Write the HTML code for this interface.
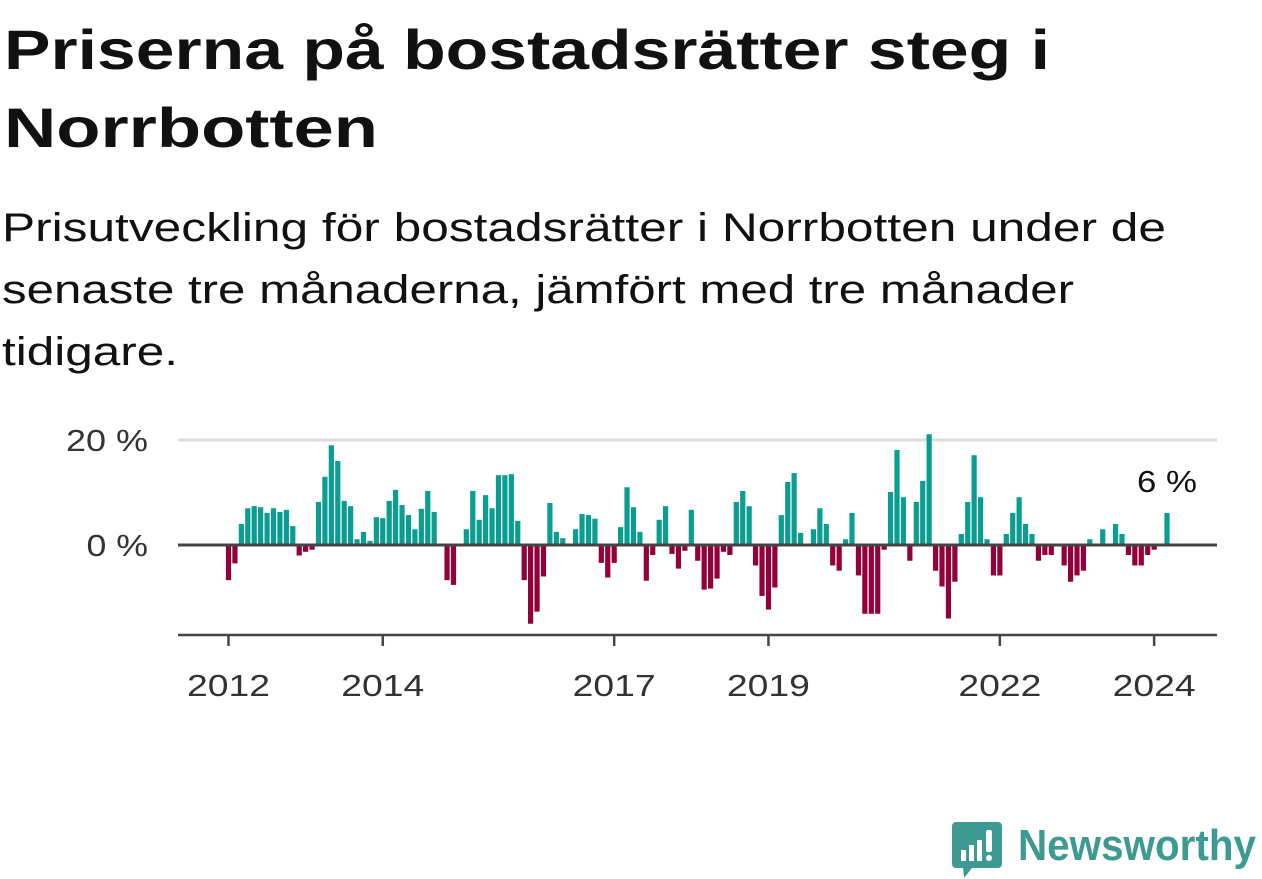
<!DOCTYPE html>
<html><head><meta charset="utf-8"><style>
html,body{margin:0;padding:0;background:#fff;width:1262px;height:879px;overflow:hidden}
svg{display:block;font-family:"Liberation Sans","DejaVu Sans",sans-serif}
</style></head><body>
<svg id="chart" width="1262" height="879" viewBox="0 0 1262 879">
<text x="4" y="69" font-size="56" font-weight="bold" fill="#111" textLength="1046" lengthAdjust="spacingAndGlyphs">Priserna på bostadsrätter steg i</text>
<text x="4" y="147" font-size="56" font-weight="bold" fill="#111" textLength="374" lengthAdjust="spacingAndGlyphs">Norrbotten</text>
<text x="2" y="241" font-size="40" fill="#111" textLength="1164" lengthAdjust="spacingAndGlyphs">Prisutveckling för bostadsrätter i Norrbotten under de</text>
<text x="2" y="303" font-size="40" fill="#111" textLength="1072" lengthAdjust="spacingAndGlyphs">senaste tre månaderna, jämfört med tre månader</text>
<text x="2" y="365" font-size="40" fill="#111" textLength="176" lengthAdjust="spacingAndGlyphs">tidigare.</text>
<g id="plot"></g>
<g>
<path d="M956 822 h42 a4 4 0 0 1 4 4 v38 a4 4 0 0 1 -4 4 h-26 l-8 10 l-1 -10 h-7 a4 4 0 0 1 -4 -4 v-38 a4 4 0 0 1 4 -4z" fill="#3d9a93"/>
<rect x="961" y="850" width="5" height="11" fill="#fff"/>
<rect x="969" y="845" width="5" height="16" fill="#fff"/>
<rect x="977" y="840" width="5" height="21" fill="#fff"/>
<rect x="986" y="830" width="6" height="22" rx="2" fill="#fff"/>
<circle cx="989" cy="858" r="3" fill="#fff"/>
<text x="1018" y="860" font-size="44" font-weight="bold" fill="#3d9a93" textLength="238" lengthAdjust="spacingAndGlyphs">Newsworthy</text>
</g>
</svg>
<script>
const values = [-6.7,-3.5,4.0,7.0,7.4,7.2,6.1,7.0,6.3,6.7,3.6,-2.0,-1.3,-0.9,8.2,13.0,19.0,16.0,8.4,7.4,1.1,2.5,0.8,5.3,5.1,8.4,10.5,7.6,5.7,3.0,6.9,10.3,6.3,null,-6.7,-7.6,
null,3.0,10.3,4.8,9.5,7.0,13.3,13.3,13.5,4.6,-6.7,-15.0,-12.7,-6.0,8.0,2.5,1.3,null,3.0,5.9,5.7,5.0,-3.4,-6.2,-3.4,3.4,11.0,7.2,2.5,-6.8,-1.9,4.8,7.4,-1.7,-4.5,-1.1,
6.7,-3.0,-8.5,-8.3,-6.4,-1.3,-1.9,8.2,10.3,7.4,-3.9,-9.7,-12.3,-8.1,5.7,12.0,13.7,2.3,null,3.0,7.0,4.0,-3.9,-4.9,1.1,6.1,-5.8,-13.1,-13.1,-13.1,-0.9,10.1,18.1,9.1,-3.0,8.2,12.2,21.1,
-4.9,-7.9,-14.0,-7.0,2.1,8.2,17.1,9.1,1.1,-5.8,-5.8,2.1,6.1,9.1,4.0,2.1,-3.0,-1.9,-1.9,null,-3.9,-7.0,-5.8,-4.9,1.1,null,3.0,null,4.0,2.1,-1.9,-3.9,-3.9,-1.9,-0.9,null,6.1];
const yTicks = [0, 20];
const yTickLabels = ["0 %", "20 %"];
const xTickYears = [2012, 2014, 2017, 2019, 2022, 2024];
const lastLabel = "6 %";

const NS = "http://www.w3.org/2000/svg";
const plot = document.getElementById("plot");
const x = m => 228.5 + m * 6.428;
const xYear = yr => x((yr - 2012) * 12);
const y = v => 545 - v * 5.25;
function mk(tag, attrs){const e=document.createElementNS(NS,tag);for(const k in attrs)e.setAttribute(k,attrs[k]);plot.appendChild(e);return e;}

yTicks.forEach((t,i)=>{
  if(t!==0){
    const g=mk("line",{x1:178,x2:1217,y1:y(t),y2:y(t),stroke:"#dcdcdc","stroke-width":3});
    
    
  }
  const l=mk("text",{x:148,y:y(t)+11,"font-size":31,fill:"#333","text-anchor":"end",textLength:yTickLabels[i].length*20.5,lengthAdjust:"spacingAndGlyphs"});
  l.textContent=yTickLabels[i];
  
  
});

values.forEach((v,i)=>{
  if(v===null) return;
  const top=Math.min(y(v),y(0)), h=Math.abs(y(v)-y(0));
  const b=mk("rect",{x:x(i)-2.6,y:top,width:5.2,height:h,fill:v>=0?"#0a9e92":"#93003a"});
  
  
});

const zl=mk("line",{x1:178,x2:1217,y1:y(0),y2:y(0),stroke:"#444","stroke-width":3});



const ax=mk("line",{x1:178,x2:1217,y1:635,y2:635,stroke:"#444","stroke-width":2.5});



xTickYears.forEach(yr=>{
  const t=mk("line",{x1:xYear(yr),x2:xYear(yr),y1:635,y2:646,stroke:"#444","stroke-width":2.5});
  
  
  const l=mk("text",{x:xYear(yr),y:696,"font-size":31,fill:"#333","text-anchor":"middle",textLength:83,lengthAdjust:"spacingAndGlyphs"});
  l.textContent=yr;
  
  
});

let li=values.length-1; while(values[li]===null) li--;
const vl=mk("text",{x:x(li),y:y(values[li])-21,"font-size":31,fill:"#111","text-anchor":"middle",textLength:60,lengthAdjust:"spacingAndGlyphs"});
vl.textContent=lastLabel;


</script>
</body></html>
